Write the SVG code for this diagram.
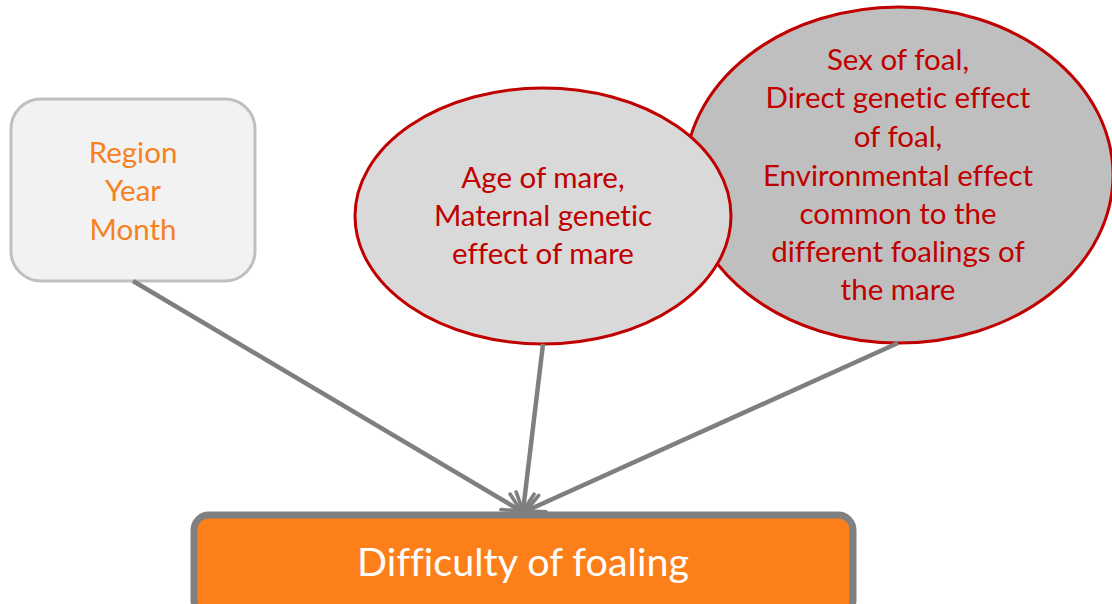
<svg xmlns="http://www.w3.org/2000/svg" width="1112" height="604" viewBox="0 0 1112 604">
<style>
.t{font-family:"Lato","Liberation Sans",sans-serif;font-size:29.5px;text-anchor:middle;font-variant-ligatures:none}
.red{fill:#c00000}
.org{fill:#f6821f}
.e{stroke:#c00000;stroke-width:3}
.c{stroke:#7f7f7f;stroke-width:4.5;fill:none;marker-end:url(#ah)}
</style>
<defs>
<marker id="ah" viewBox="0 0 10 10" refX="9" refY="5" markerWidth="5" markerHeight="5" orient="auto" markerUnits="strokeWidth">
<path d="M1,1 L9,5 L1,9" fill="none" stroke="#7f7f7f" stroke-width="1.6" stroke-linecap="round"/>
</marker>
</defs>
<g id="node-region">
<rect x="11" y="99" width="244" height="182" rx="30" fill="#f2f2f2" stroke="#bfbfbf" stroke-width="3"/>
<text class="t org" x="133" y="163">Region</text>
<text class="t org" x="133" y="201">Year</text>
<text class="t org" x="133" y="240">Month</text>
</g>
<g id="node-foal">
<ellipse cx="899" cy="175" rx="214" ry="168" fill="#bfbfbf" class="e"/>
<text class="t red" x="898" y="70">Sex of foal,</text>
<text class="t red" x="898" y="108">Direct genetic effect</text>
<text class="t red" x="898" y="147">of foal,</text>
<text class="t red" x="898" y="186">Environmental effect</text>
<text class="t red" x="898" y="224">common to the</text>
<text class="t red" x="898" y="262">different foalings of</text>
<text class="t red" x="898" y="300">the mare</text>
</g>
<g id="node-mare">
<ellipse cx="543" cy="216" rx="188" ry="128" fill="#d9d9d9" class="e"/>
<text class="t red" x="543" y="188">Age of mare,</text>
<text class="t red" x="543" y="226">Maternal genetic</text>
<text class="t red" x="543" y="264">effect of mare</text>
</g>
<g id="connectors">
<line class="c" x1="133" y1="281" x2="521" y2="511"/>
<line class="c" x1="543" y1="344" x2="523" y2="511"/>
<line class="c" x1="898" y1="343" x2="526" y2="511"/>
</g>
<g id="node-difficulty">
<rect x="194" y="515" width="659" height="100" rx="15" fill="#fd7f1a" stroke="#808080" stroke-width="7"/>
<text x="523" y="576" style="font-family:'Lato','Liberation Sans',sans-serif;font-size:39.5px;text-anchor:middle;fill:#ffffff;font-variant-ligatures:none">Difficulty of foaling</text>
</g>
</svg>
